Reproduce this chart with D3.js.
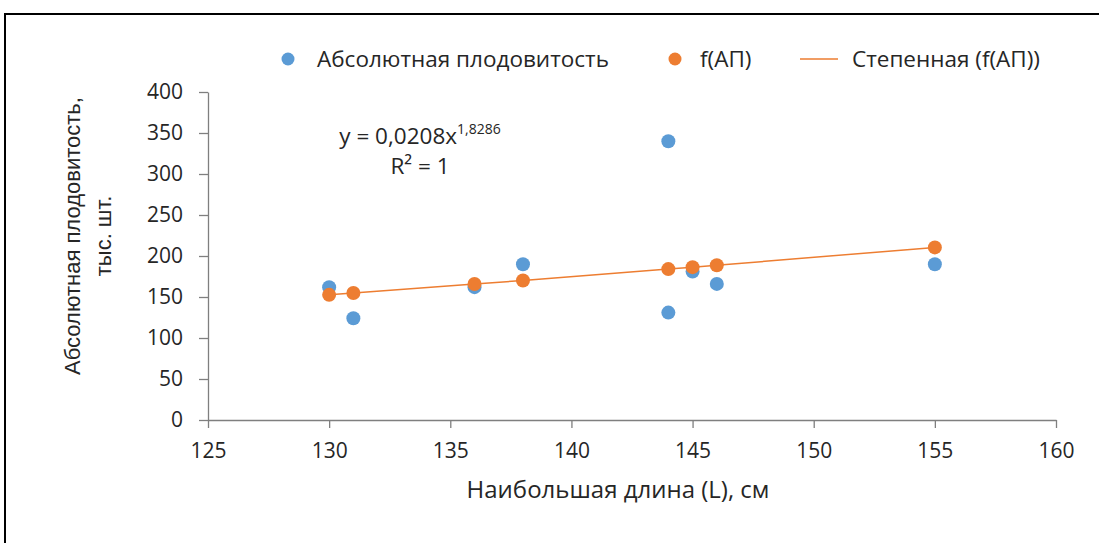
<!DOCTYPE html>
<html>
<head>
<meta charset="utf-8">
<script src="https://cdn.jsdelivr.net/npm/d3@7"></script>
<style>
  body { margin: 0; background: #fff; }
  svg text { font-family: "Open Sans", sans-serif; fill: #262626; }
</style>
</head>
<body>
<svg id="chart"></svg>
<script>
// measured points: length (cm) and absolute fecundity (thousand)
const lengthL = [130, 131, 136, 138, 144, 144, 145, 146, 155];
const fecundity = [162, 124, 162, 190, 340, 131, 181, 166, 190];
// f(AП) values
const fitLength = [130, 131, 136, 138, 144, 145, 146, 155];
const fitValues = [152.6, 154.8, 165.8, 170.2, 184.0, 186.4, 188.7, 210.5];
const xTicks = [125, 130, 135, 140, 145, 150, 155, 160];
const yTicks = [0, 50, 100, 150, 200, 250, 300, 350, 400];
const legendLabels = ['Абсолютная плодовитость', 'f(АП)', 'Степенная (f(АП))'];

const width = 1099, height = 543;
const blue = '#5b9bd5', orange = '#ed7d31';

const svg = d3.select('#chart')
  .attr('width', width)
  .attr('height', height);

// outer frame (goes off the picture right and bottom)
svg.append('rect')
  .attr('x', 5).attr('y', 14)
  .attr('width', 1110).attr('height', 560)
  .attr('fill', 'none')
  .attr('stroke', '#000')
  .attr('stroke-width', 2);

const x = d3.scaleLinear().domain([125, 160]).range([208, 1056]);
const y = d3.scaleLinear().domain([0, 400]).range([420, 92]);

const xAxis = svg.append('g')
  .attr('transform', 'translate(0,420)')
  .call(d3.axisBottom(x).tickValues(xTicks).tickSize(8).tickSizeOuter(0).tickPadding(15));
xAxis.selectAll('path, line').attr('stroke', '#7f7f7f').attr('stroke-width', 1.3);
xAxis.selectAll('text').attr('font-size', 21).attr('font-family', '"Open Sans", sans-serif').attr('fill', '#262626');

const yAxis = svg.append('g')
  .attr('transform', 'translate(208,0)')
  .call(d3.axisLeft(y).tickValues(yTicks).tickSize(9).tickSizeOuter(0).tickPadding(16));
yAxis.selectAll('path, line').attr('stroke', '#7f7f7f').attr('stroke-width', 1.3);
yAxis.selectAll('text').attr('font-size', 21).attr('font-family', '"Open Sans", sans-serif').attr('fill', '#262626');

// power trendline through the fitted values
const line = d3.line()
  .x((d, i) => x(fitLength[i]))
  .y(d => y(d));
svg.append('path')
  .datum(fitValues)
  .attr('d', line)
  .attr('fill', 'none')
  .attr('stroke', orange)
  .attr('stroke-width', 1.5);

svg.append('g').selectAll('circle')
  .data(fecundity)
  .enter()
  .append('circle')
  .attr('cx', (d, i) => x(lengthL[i]))
  .attr('cy', d => y(d))
  .attr('r', 7)
  .attr('fill', blue);

svg.append('g').selectAll('circle')
  .data(fitValues)
  .enter()
  .append('circle')
  .attr('cx', (d, i) => x(fitLength[i]))
  .attr('cy', d => y(d))
  .attr('r', 7)
  .attr('fill', orange);

// equation label
const eq = svg.append('text')
  .attr('x', 420).attr('y', 144)
  .attr('text-anchor', 'middle')
  .attr('font-size', 22.5);
eq.append('tspan').text('y = 0,0208x');
eq.append('tspan').attr('font-size', 14).attr('dy', -10).text('1,8286');
svg.append('text')
  .attr('x', 420).attr('y', 174)
  .attr('text-anchor', 'middle')
  .attr('font-size', 22.5)
  .text('R² = 1');

// legend
const legend = svg.append('g').attr('font-size', 22.5);
legend.append('circle').attr('cx', 288).attr('cy', 59).attr('r', 6.5).attr('fill', blue);
legend.append('text').attr('x', 317).attr('y', 67).text(legendLabels[0]);
legend.append('circle').attr('cx', 675).attr('cy', 59).attr('r', 6.5).attr('fill', orange);
legend.append('text').attr('x', 700).attr('y', 67).text(legendLabels[1]);
legend.append('line').attr('x1', 800).attr('x2', 838).attr('y1', 59).attr('y2', 59)
  .attr('stroke', orange).attr('stroke-width', 1.5);
legend.append('text').attr('x', 852).attr('y', 67).text(legendLabels[2]);

// axis titles
svg.append('text')
  .attr('x', 618).attr('y', 498)
  .attr('text-anchor', 'middle')
  .attr('font-size', 24)
  .text('Наибольшая длина (L), см');

const yTitle = svg.append('text')
  .attr('transform', 'translate(80,236) rotate(-90)')
  .attr('text-anchor', 'middle')
  .attr('font-size', 22)
  .style('font-family', '"Liberation Sans", Arial, sans-serif');
yTitle.append('tspan').attr('x', 0).attr('y', 0).text('Абсолютная плодовитость,');
yTitle.append('tspan').attr('x', 0).attr('y', 31).text('тыс. шт.');
</script>
</body>
</html>
